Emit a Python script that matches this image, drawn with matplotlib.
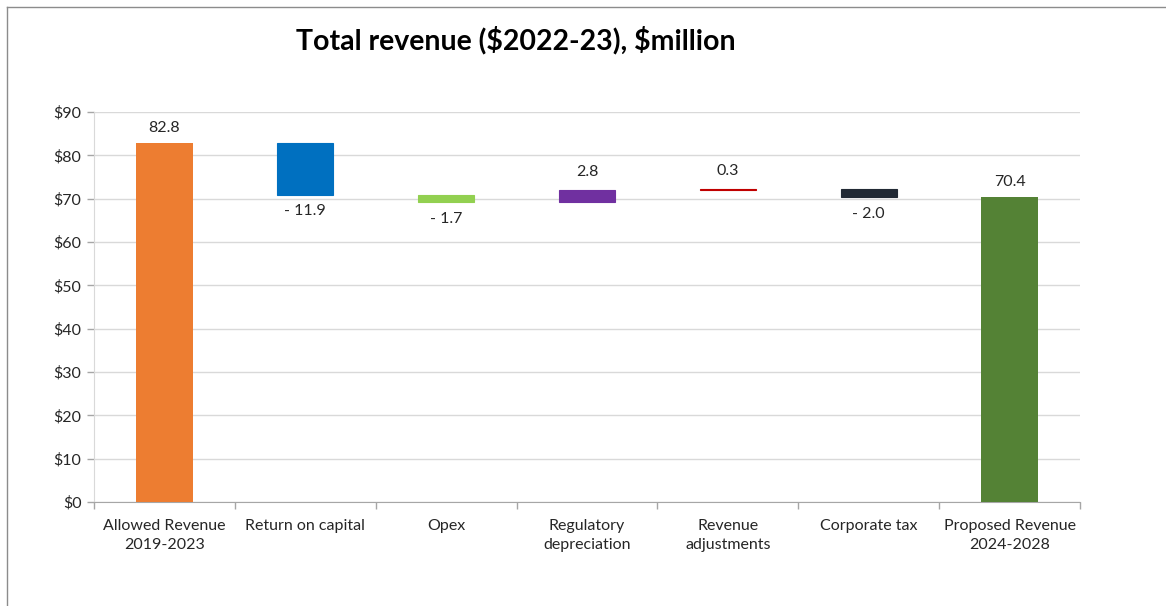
import matplotlib
matplotlib.use("Agg")
import matplotlib.pyplot as plt
from matplotlib.lines import Line2D

plt.rcParams['font.family'] = ['Lato', 'DejaVu Sans']

# Waterfall inputs ($million, $2022-23)
categories = ["Allowed Revenue\n2019-2023", "Return on capital", "Opex",
              "Regulatory\ndepreciation", "Revenue\nadjustments", "Corporate tax",
              "Proposed Revenue\n2024-2028"]
start_total = 82.8
changes = [-11.9, -1.7, 2.8, 0.3, -2.0]
end_total = 70.4
colors = ["#ED7D31", "#0070C0", "#92D050", "#7030A0", "#C00000", "#222A35", "#548235"]
yticks = [0, 10, 20, 30, 40, 50, 60, 70, 80, 90]

fig = plt.figure(figsize=(11.66, 6.06), dpi=100)
ax = fig.add_axes([94 / 1166, 1 - 502 / 606, (1080 - 94) / 1166, (502 - 112) / 606])

text_color = "#262626"
width = 0.4
fs = 11.5

# Opening total
ax.bar(0, start_total, width=width, color=colors[0], zorder=3)
ax.annotate(f"{start_total:.1f}", (0, start_total), xytext=(0, 6), textcoords="offset points",
            ha="center", va="bottom", fontsize=fs, color=text_color)

# Floating increments
level = start_total
for i, d in enumerate(changes, start=1):
    lo = level + min(d, 0)
    ax.bar(i, abs(d), bottom=lo, width=width, color=colors[i], edgecolor=colors[i],
           linewidth=0.8, zorder=3)
    if d < 0:
        ax.annotate(f"- {abs(d):.1f}", (i, lo), xytext=(0, -7), textcoords="offset points",
                    ha="center", va="top", fontsize=fs, color=text_color)
    else:
        ax.annotate(f"{d:.1f}", (i, lo + d), xytext=(0, 8), textcoords="offset points",
                    ha="center", va="bottom", fontsize=fs, color=text_color)
    level += d

# Closing total
n = len(categories) - 1
ax.bar(n, end_total, width=width, color=colors[-1], zorder=3)
ax.annotate(f"{end_total:.1f}", (n, end_total), xytext=(0, 6), textcoords="offset points",
            ha="center", va="bottom", fontsize=fs, color=text_color)

ax.set_xlim(-0.5, len(categories) - 0.5)
ax.set_ylim(0, 90)
ax.set_yticks(yticks)
ax.set_yticklabels([f"${v}" for v in yticks], fontsize=fs, color=text_color)
ax.yaxis.grid(True, color="#D9D9D9", linewidth=1, zorder=0)
ax.set_axisbelow(True)

ax.set_xticks(range(len(categories)))
ax.set_xticklabels(categories, fontsize=fs, color=text_color, linespacing=1.5)
ax.tick_params(axis="x", length=0, pad=12)
ax.set_xticks([i - 0.5 for i in range(len(categories) + 1)], minor=True)
ax.tick_params(axis="x", which="minor", length=5, color="#A6A6A6", width=1)
ax.tick_params(axis="y", length=5, color="#A6A6A6", width=1, pad=4)

for s in ["top", "right"]:
    ax.spines[s].set_visible(False)
ax.spines["bottom"].set_color("#A6A6A6")
ax.spines["left"].set_color("#D9D9D9")

fig.text(516 / 1166, 1 - 40 / 606, "Total revenue (\\$2022-23), \\$million", ha="center",
         va="center", fontsize=20.5, fontweight="bold", color="#000000")

# Frame lines along the top and left of the chart area
fig.add_artist(Line2D([7 / 1166, 1], [1 - 7 / 606, 1 - 7 / 606], color="#8C8C8C", linewidth=1,
                      transform=fig.transFigure))
fig.add_artist(Line2D([7 / 1166, 7 / 1166], [0, 1 - 7 / 606], color="#8C8C8C", linewidth=1,
                      transform=fig.transFigure))

fig.savefig("out.png", dpi=100, facecolor="white")
